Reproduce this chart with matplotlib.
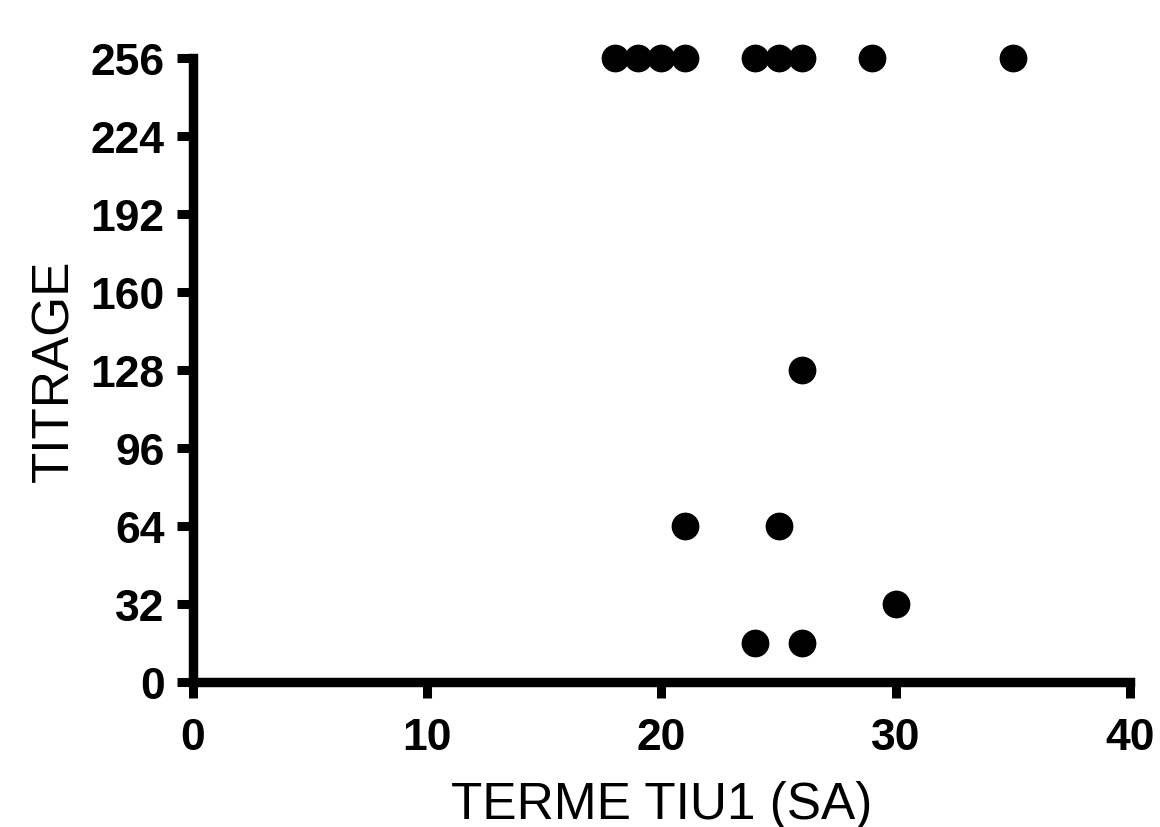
import numpy as np
import matplotlib.pyplot as plt

# values
terme = [18, 19, 20, 21, 24, 25, 26, 29, 35, 26, 21, 25, 30, 24, 26]
titrage = [256, 256, 256, 256, 256, 256, 256, 256, 256, 128, 64, 64, 32, 16, 16]
xticks = [0, 10, 20, 30, 40]
yticks = np.arange(0, 257, 32)

plt.rcParams['font.family'] = ['Liberation Sans', 'DejaVu Sans']

fig = plt.figure(figsize=(11.6, 8.28), dpi=100)
ax = fig.add_axes([0.1664, 0.1751, 0.9741 - 0.1664, 0.9287 - 0.1751])

ax.scatter(terme, titrage, s=400, color='black', linewidths=0, clip_on=False, zorder=3)

ax.set_xlim(0, 40)
ax.set_ylim(0, 256)
ax.set_xticks(xticks)
ax.set_yticks(yticks)

for side in ['top', 'right']:
    ax.spines[side].set_visible(False)
for side in ['left', 'bottom']:
    ax.spines[side].set_linewidth(6.8)
    ax.spines[side].set_capstyle('projecting')

ax.tick_params(width=6.5, length=11.5, labelsize=32)
ax.tick_params(axis='y', pad=9)
ax.tick_params(axis='x', pad=14)
for lab in ax.get_xticklabels() + ax.get_yticklabels():
    lab.set_fontweight('bold')

ax.set_xlabel('TERME TIU1 (SA)', fontsize=37)
ax.set_ylabel('TITRAGE', fontsize=37)
ax.xaxis.set_label_coords(0.5, -0.157)
ax.yaxis.set_label_coords(-0.121, 0.5)

fig.savefig('out.png', dpi=100)
